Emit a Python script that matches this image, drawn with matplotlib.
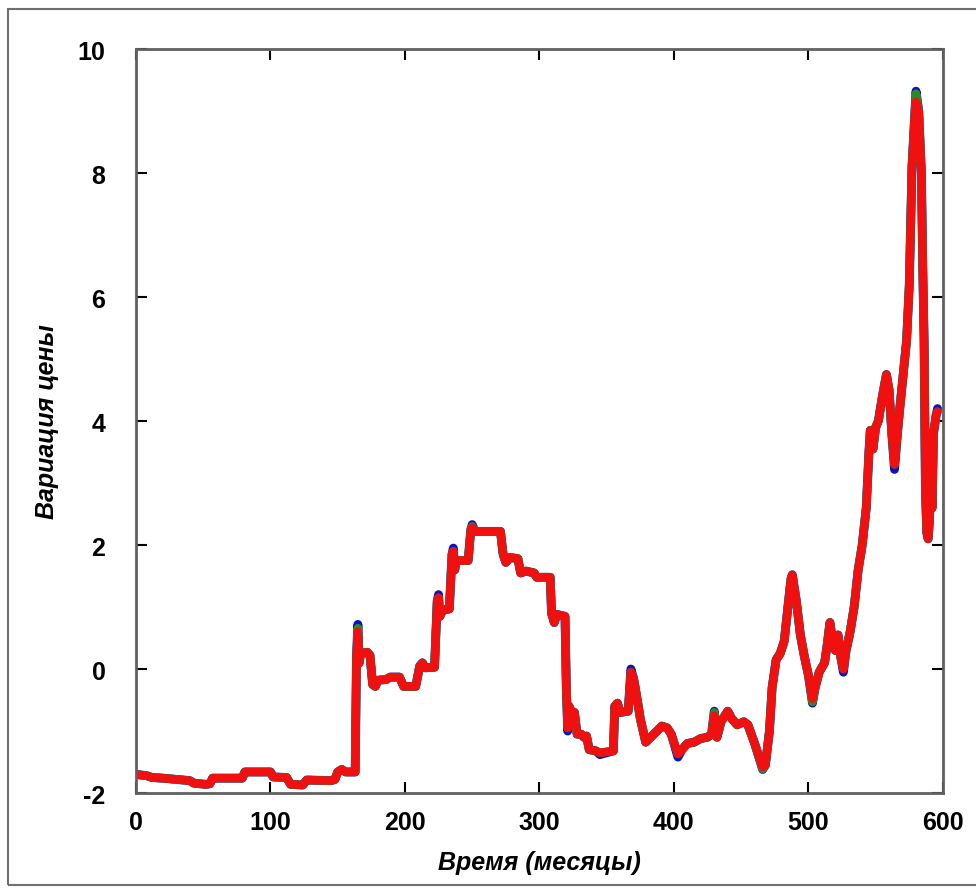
import matplotlib.pyplot as plt
from matplotlib.patches import Rectangle

# month / price-variation knots of the fitted series
months = [0, 8, 12, 20, 30, 40, 43, 52, 55, 57, 79, 81, 100, 102, 112, 115, 124, 127,
          145, 148, 150, 153, 156, 163, 164, 165, 166, 167, 172, 174, 176, 178, 180,
          186, 189, 196, 199, 208, 211, 213, 215, 222, 224, 225, 226, 228, 233, 235,
          236, 237, 238, 247, 249, 250, 252, 271, 273, 275, 278, 284, 286, 290, 296,
          298, 308, 309, 311, 313, 319, 320, 321, 322, 324, 326, 328, 331, 333, 335,
          337, 342, 345, 355, 356, 358, 360, 366, 368, 370, 372, 375, 379, 385, 391,
          395, 398, 403, 406, 410, 415, 420, 425, 428, 430, 432, 435, 440, 443, 447,
          452, 455, 460, 466, 468, 471, 473, 476, 479, 482, 487, 488, 491, 494, 497,
          500, 503, 505, 508, 512, 514, 516, 518, 520, 522, 524, 526, 528, 531, 534,
          537, 540, 543, 545, 546, 548, 550, 552, 555, 558, 560, 562, 564, 567, 570,
          573, 575, 577, 579, 580, 582, 584, 585, 586, 587, 588, 589, 590, 591, 592,
          593, 595, 596]
red = [-1.70, -1.72, -1.75, -1.76, -1.78, -1.80, -1.84, -1.86, -1.85, -1.76, -1.76,
       -1.66, -1.66, -1.74, -1.75, -1.86, -1.87, -1.79, -1.80, -1.78, -1.66, -1.62,
       -1.66, -1.66, 0.20, 0.60, 0.10, 0.25, 0.27, 0.22, -0.25, -0.28, -0.18, -0.17,
       -0.13, -0.13, -0.28, -0.28, 0.05, 0.10, 0.02, 0.03, 1.10, 1.15, 0.85, 0.95,
       0.97, 1.85, 1.90, 1.60, 1.75, 1.75, 2.25, 2.28, 2.22, 2.22, 1.85, 1.72, 1.80,
       1.78, 1.55, 1.58, 1.55, 1.48, 1.48, 0.90, 0.75, 0.88, 0.85, -0.30, -0.95,
       -0.60, -0.70, -0.70, -1.05, -1.05, -1.10, -1.08, -1.30, -1.32, -1.35, -1.32,
       -0.60, -0.55, -0.70, -0.68, -0.05, -0.15, -0.40, -0.80, -1.18, -1.05, -0.92,
       -0.95, -1.05, -1.37, -1.30, -1.20, -1.18, -1.12, -1.10, -1.05, -0.75, -1.10,
       -0.85, -0.68, -0.80, -0.90, -0.85, -0.90, -1.20, -1.58, -1.55, -1.00, -0.30,
       0.15, 0.25, 0.45, 1.45, 1.52, 1.10, 0.55, 0.20, -0.10, -0.48, -0.30, -0.05,
       0.10, 0.40, 0.75, 0.45, 0.30, 0.55, 0.20, 0.00, 0.30, 0.60, 1.00, 1.60, 2.00,
       2.60, 3.50, 3.85, 3.55, 3.90, 4.00, 4.40, 4.75, 4.50, 3.80, 3.30, 4.00, 4.65,
       5.30, 6.20, 8.10, 8.90, 9.15, 9.00, 8.00, 6.50, 5.30, 2.90, 2.20, 2.10, 2.40,
       3.20, 2.60, 3.80, 4.10, 4.15]

# the other two series only differ from the red one at the extremes
blue_diff = {165: 0.72, 225: 1.20, 236: 1.95, 250: 2.33, 321: -1.00, 345: -1.38,
             368: 0.00, 403: -1.42, 430: -0.68, 466: -1.62, 503: -0.55, 526: -0.05,
             564: 3.22, 580: 9.32, 596: 4.20}
green_diff = {165: 0.66, 250: 2.30, 430: -0.70, 466: -1.61, 503: -0.53, 580: 9.28}

blue = [blue_diff.get(m, v) for m, v in zip(months, red)]
green = [green_diff.get(m, v) for m, v in zip(months, red)]

xticks = [0, 100, 200, 300, 400, 500, 600]
yticks = [-2, 0, 2, 4, 6, 8, 10]

plt.rcParams['font.family'] = ['Liberation Sans', 'DejaVu Sans']
plt.rcParams['axes.unicode_minus'] = False

fig = plt.figure(figsize=(9.76, 8.95), dpi=100)
ax = fig.add_axes([0.1393, 0.1128, 0.8268, 0.8313])

kw = dict(solid_capstyle='round', solid_joinstyle='round')
ax.plot(months, blue, color='#1010c0', lw=6.4, **kw)
ax.plot(months, green, color='#2a8a2a', lw=6.2, **kw)
ax.plot(months, red, color='#f01010', lw=6.0, **kw)

ax.set_xlim(0, 600)
ax.set_ylim(-2, 10)
ax.set_xticks(xticks)
ax.set_yticks(yticks)
ax.tick_params(direction='in', length=8, width=1.5, top=True, right=True,
               labelsize=18)
ax.tick_params(axis='x', pad=12)
ax.tick_params(axis='y', pad=22)
for lab in ax.get_xticklabels() + ax.get_yticklabels():
    lab.set_fontweight('bold')
for sp in ax.spines.values():
    sp.set_color('#606060')
    sp.set_linewidth(2)

ax.set_xlabel('Время (месяцы)', fontsize=18, fontweight='bold', style='italic',
              labelpad=12)
ax.set_ylabel('Вариация цены', fontsize=18, fontweight='bold', style='italic',
              labelpad=13)

# outer frame around the figure
fig.patches.append(Rectangle((8 / 976, 9 / 895), 980 / 976, 876 / 895,
                             transform=fig.transFigure, fill=False,
                             edgecolor='#707070', lw=1.5))

fig.savefig('out.png', dpi=100)
